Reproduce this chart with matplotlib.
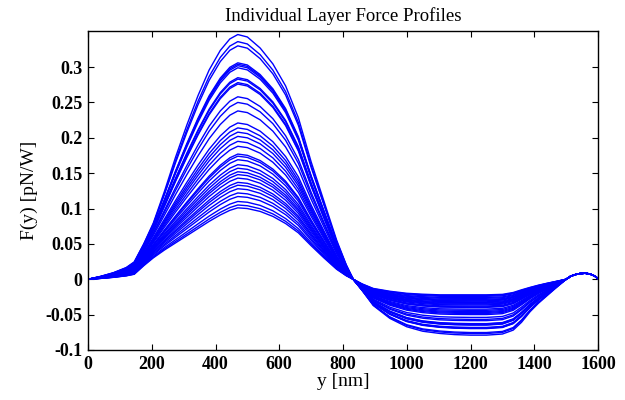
import numpy as np
import matplotlib

matplotlib.use("Agg")
import matplotlib.pyplot as plt

# peak height (near y=470 nm) and trough depth of each layer profile
peaks = [0.346, 0.336, 0.330, 0.306, 0.304, 0.302, 0.299, 0.285, 0.283, 0.278,
         0.276, 0.258, 0.250, 0.238, 0.221, 0.214, 0.208, 0.202, 0.195, 0.188,
         0.177, 0.174, 0.169, 0.162, 0.157, 0.152, 0.148, 0.143, 0.137, 0.133,
         0.128, 0.122, 0.117, 0.110, 0.105, 0.101]
troughs = [-0.0790, -0.0767, -0.0753, -0.0697, -0.0692, -0.0688, -0.0681, -0.0648,
           -0.0643, -0.0632, -0.0627, -0.0585, -0.0567, -0.0539, -0.0499, -0.0483,
           -0.0469, -0.0455, -0.0439, -0.0422, -0.0397, -0.0390, -0.0378, -0.0362,
           -0.0350, -0.0339, -0.0329, -0.0318, -0.0304, -0.0294, -0.0283, -0.0269,
           -0.0257, -0.0241, -0.0229, -0.0220]

# positive lobe, normalised to the peak: shape of the tallest and of the lowest curve
pos_y = [0, 40, 80, 120, 145, 175, 205, 240, 275, 310, 345, 380, 415, 445, 470,
         500, 540, 580, 620, 660, 700, 740, 780, 810, 832]
pos_high = [0, 0.012, 0.027, 0.048, 0.071, 0.145, 0.23, 0.36, 0.50, 0.63, 0.75, 0.855,
            0.935, 0.982, 1.0, 0.99, 0.945, 0.88, 0.79, 0.66, 0.48, 0.32, 0.16, 0.06, 0]
pos_low = [0, 0.012, 0.027, 0.048, 0.07, 0.19, 0.30, 0.41, 0.51, 0.61, 0.71, 0.81,
           0.90, 0.965, 1.0, 0.99, 0.95, 0.88, 0.78, 0.65, 0.47, 0.30, 0.14, 0.05, 0]

# negative lobe, normalised to the trough depth
neg_y = [832, 860, 895, 947, 1000, 1050, 1104, 1150, 1200, 1250, 1300, 1334, 1360,
         1387, 1413, 1439, 1465, 1500]
neg_deep = [0, 0.2, 0.47, 0.70, 0.85, 0.93, 0.97, 0.99, 1.0, 1.0, 0.98, 0.91, 0.77,
            0.58, 0.43, 0.30, 0.17, 0]
neg_shallow = [0, 0.3, 0.59, 0.77, 0.9, 0.96, 1.0, 1.0, 1.0, 1.0, 0.97, 0.85, 0.68,
               0.52, 0.38, 0.26, 0.15, 0]

# small common bump at the far edge (absolute values)
tail_y = [1515, 1530, 1545, 1560, 1575, 1590, 1600]
tail_f = [0.0045, 0.0068, 0.0082, 0.0085, 0.0075, 0.0045, 0.001]

plt.rcParams["font.family"] = ["Liberation Serif", "DejaVu Serif"]

fig = plt.figure(figsize=(6.25, 4.0), dpi=100)
ax = fig.add_axes([0.1408, 0.125, 0.816, 0.7975])

pmin, pmax = min(peaks), max(peaks)
x_all = np.array(pos_y + neg_y[1:] + tail_y, dtype=float)
for peak, trough in zip(peaks, troughs):
    w = (peak - pmin) / (pmax - pmin)
    pos = peak * ((1 - w) * np.array(pos_low) + w * np.array(pos_high))
    neg = trough * ((1 - w) * np.array(neg_shallow) + w * np.array(neg_deep))
    f = np.concatenate([pos, neg[1:], tail_f])
    ax.plot(x_all, f, color="#0000ff", lw=1.0)

ax.set_xlim(0, 1600)
ax.set_ylim(-0.1, 0.351)
ax.set_xticks(range(0, 1601, 200))
yt = [-0.1, -0.05, 0, 0.05, 0.1, 0.15, 0.2, 0.25, 0.3]
ax.set_yticks(yt)
ax.set_yticklabels(["-0.1", "-0.05", "0", "0.05", "0.1", "0.15", "0.2", "0.25", "0.3"])
ax.tick_params(direction="in", length=4, width=0.8, top=True, right=True,
               labelsize=13, pad=4)
for lab in ax.get_xticklabels() + ax.get_yticklabels():
    lab.set_fontweight("bold")
for s in ax.spines.values():
    s.set_linewidth(1.0)

ax.set_title("Individual Layer Force Profiles", fontsize=13.5, pad=7)
ax.set_xlabel("y [nm]", fontsize=14, labelpad=0)
ax.set_ylabel("F(y) [pN/W]", fontsize=14, labelpad=5)

fig.savefig("out.png", dpi=100)
